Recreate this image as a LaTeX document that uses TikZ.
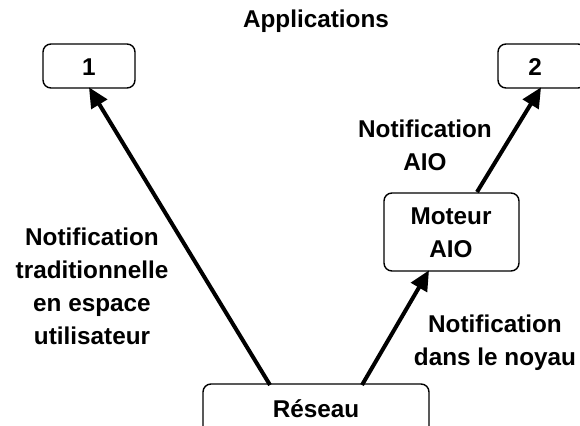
\documentclass[tikz,border=0pt]{standalone}
\usepackage{fontspec}
\setmainfont{Liberation Sans}
\usetikzlibrary{arrows.meta}
\begin{document}
\begin{tikzpicture}[x=1pt,y=-1pt,
  box/.style={draw, line width=1.4pt, rounded corners=8pt},
  lbl/.style={font=\fontsize{24.3}{33}\selectfont\bfseries, align=center, inner sep=0pt},
  arr/.style={line width=4pt, -{Triangle[length=20pt,width=18pt]}, shorten >=-2pt}]
\useasboundingbox (0,0) rectangle (580,425);
\fill[white] (0,0) rectangle (580,425);
\draw[box] (43,44) rectangle (135,88);
\draw[box] (498,44) rectangle (586,88);
\draw[box] (384,193) rectangle (519,271);
\draw[box] (203,384) rectangle (429,440);
\node[lbl] (app1) at (89,67) {1};
\node[lbl] (app2) at (535,67) {2};
\node[lbl] (mot) at (451,233) {Moteur\\AIO};
\node[lbl] (res) at (316,409) {Réseau};
\node[lbl] (apps) at (316,21) {Applications};
\node[lbl] (t1) at (92,286) {Notification\\traditionnelle\\en espace\\utilisateur};
\node[lbl] (t2) at (495,343) {Notification\\dans le noyau};
\node[lbl] (t3) at (425,145) {Notification\\AIO};
\coordinate (r1) at (270,385);
\coordinate (a1) at (90,89);
\coordinate (r2) at (362,385);
\coordinate (m1) at (428,272);
\coordinate (m2) at (477,192);
\coordinate (a2) at (540,89);
\draw[arr] (r1) -- (a1);
\draw[arr] (r2) -- (m1);
\draw[arr] (m2) -- (a2);
\end{tikzpicture}
\end{document}
